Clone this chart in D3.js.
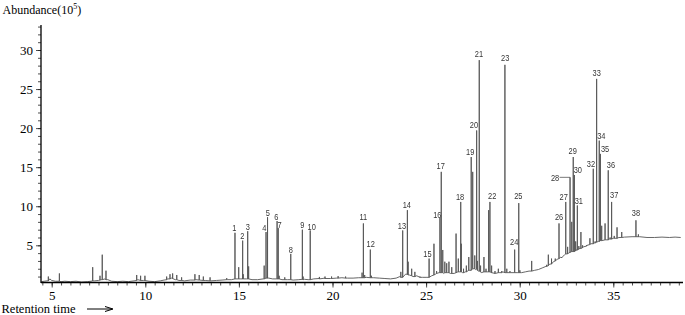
<!DOCTYPE html>
<html>
<head>
<meta charset="utf-8">
<script src="https://cdn.jsdelivr.net/npm/d3@7/dist/d3.min.js"></script>
<style>
  html, body { margin: 0; padding: 0; background: #fff; }
  svg { display: block; }
</style>
</head>
<body>
<svg id="chart" width="685" height="315"></svg>
<script>
// ---------------- DATA ----------------
const xTickLabels = [5, 10, 15, 20, 25, 30, 35];
const yTickLabels = [5, 10, 15, 20, 25, 30];

// labelled peaks: retention time (min), apex abundance (x10^5), foot abundance
const peakLabels = [1,2,3,4,5,6,7,8,9,10,11,12,13,14,15,16,17,18,19,20,21,22,23,24,25,26,27,28,29,30,31,32,33,34,35,36,37,38];
const peakTimes  = [14.79,15.20,15.47,16.45,16.53,17.04,17.10,17.77,18.39,18.81,21.65,22.02,23.75,24.00,25.16,25.74,25.81,26.85,27.41,27.70,27.84,28.41,29.21,29.73,29.95,32.10,32.46,32.69,32.86,32.92,33.08,33.93,34.11,34.25,34.31,34.73,34.91,36.21];
const peakTops   = [6.6,5.6,6.8,6.7,8.6,8.1,7.2,3.9,7.0,6.9,7.8,4.45,6.9,9.5,3.3,8.5,14.4,10.55,16.3,19.7,28.7,10.55,28.1,4.45,10.4,7.8,10.55,13.7,16.3,14.0,10.1,14.8,26.3,18.4,16.7,14.6,10.55,8.2];
const peakFeet   = [0.7,0.7,0.7,0.8,0.8,0.7,0.7,0.6,0.65,0.6,0.85,0.85,0.9,1.3,0.9,1.5,1.5,1.6,1.8,2.0,1.7,1.6,1.5,1.5,1.5,3.3,3.9,4.1,4.2,4.2,4.4,5.2,5.4,5.5,5.6,5.7,5.8,6.1];

// unlabelled minor peaks
const minorTimes = [4.82,5.41,7.19,7.58,7.70,7.90,9.54,9.75,9.98,11.14,11.32,11.46,11.68,11.94,12.65,12.88,13.10,13.46,14.35,14.99,15.23,15.52,16.35,17.15,17.45,18.43,19.30,19.60,19.95,20.30,20.70,21.58,21.72,22.08,23.65,24.04,24.23,24.40,24.67,25.42,25.56,25.89,26.00,26.10,26.22,26.37,26.60,26.72,26.88,27.00,27.15,27.28,27.49,27.60,27.74,27.91,28.09,28.20,28.34,28.50,28.68,28.86,29.04,29.31,29.48,30.01,30.64,31.44,31.53,31.70,31.90,32.24,32.56,32.78,32.99,33.16,33.27,33.36,33.57,33.75,34.03,34.38,34.56,34.83,35.05,35.20,35.45,36.34];
const minorTops  = [1.0,1.4,2.2,1.1,3.8,1.75,1.2,1.1,1.1,1.0,1.3,1.4,1.2,0.9,1.3,1.2,1.0,0.9,0.8,2.2,1.3,2.3,2.4,1.1,0.9,1.0,0.95,1.0,1.0,1.05,1.0,1.5,1.2,1.1,1.6,2.9,2.0,1.6,1.0,5.2,1.7,4.4,2.9,2.7,2.9,2.2,6.5,3.3,5.2,2.0,2.4,3.5,14.4,3.7,3.0,2.4,3.5,2.0,9.5,2.4,1.7,2.0,1.7,2.0,1.7,1.8,3.0,2.5,3.8,3.3,3.3,3.5,4.8,8.0,5.5,4.9,6.7,5.0,5.0,5.9,5.5,7.5,7.8,6.0,6.2,7.3,6.7,6.4];
const minorFeet  = [0.45,0.4,0.45,0.55,0.6,0.6,0.5,0.5,0.5,0.6,0.7,0.75,0.6,0.5,0.55,0.55,0.5,0.45,0.6,0.7,0.7,0.7,0.7,0.7,0.6,0.6,0.7,0.75,0.75,0.8,0.8,0.85,0.85,0.85,0.9,1.2,1.1,1.0,0.9,1.2,1.4,1.5,1.5,1.5,1.5,1.4,1.5,1.6,1.6,1.5,1.6,1.8,2.0,2.0,1.8,1.6,1.6,1.6,1.6,1.5,1.4,1.5,1.5,1.5,1.5,1.5,1.7,2.3,2.4,2.6,3.0,3.4,3.9,4.2,4.3,4.5,4.6,4.7,4.9,5.1,5.3,5.6,5.7,5.8,5.9,5.9,6.0,6.1];

// baseline (retention time, abundance)
const baseTimes  = [4.45,4.6,4.75,4.9,5.0,5.2,5.5,5.7,6.0,6.3,6.6,6.9,7.1,7.3,7.5,7.65,7.85,8.0,8.2,8.5,8.8,9.1,9.4,9.6,9.9,10.2,10.5,10.8,11.0,11.2,11.4,11.6,11.8,12.1,12.4,12.7,12.9,13.2,13.5,13.8,14.1,14.4,14.6,14.9,15.1,15.4,15.7,16.0,16.3,16.6,16.8,17.0,17.3,17.6,17.9,18.2,18.5,18.7,19.0,19.3,19.6,19.9,20.2,20.5,20.8,21.1,21.4,21.8,22.2,22.5,22.8,23.1,23.4,23.6,23.9,24.1,24.3,24.5,24.8,25.0,25.3,25.5,25.7,25.95,26.15,26.3,26.5,26.7,26.95,27.1,27.3,27.55,27.65,27.8,27.95,28.15,28.3,28.5,28.7,28.9,29.1,29.3,29.5,29.7,29.9,30.1,30.3,30.5,30.8,31.0,31.2,31.4,31.6,31.8,32.0,32.2,32.4,32.6,32.8,33.0,33.2,33.4,33.6,33.8,34.0,34.2,34.4,34.6,34.8,35.0,35.3,35.6,36.0,36.4,36.8,37.2,37.6,38.0,38.3,38.6];
const baseValues = [0.35,0.4,0.45,0.7,0.5,0.4,0.35,0.4,0.35,0.4,0.3,0.35,0.4,0.45,0.5,0.6,0.7,0.6,0.4,0.35,0.4,0.35,0.45,0.6,0.5,0.4,0.35,0.45,0.55,0.7,0.8,0.6,0.5,0.45,0.55,0.6,0.55,0.5,0.45,0.5,0.55,0.6,0.6,0.7,0.7,0.7,0.6,0.6,0.7,0.8,0.7,0.7,0.6,0.6,0.55,0.6,0.65,0.6,0.7,0.75,0.8,0.75,0.8,0.85,0.8,0.8,0.85,0.9,0.85,0.8,0.75,0.7,0.8,1.0,1.3,1.2,1.0,1.1,0.9,0.9,1.1,1.3,1.5,1.4,1.5,1.4,1.4,1.6,1.5,1.6,1.8,2.0,1.9,1.7,1.5,1.6,1.6,1.5,1.4,1.5,1.6,1.5,1.5,1.5,1.5,1.5,1.6,1.7,1.8,1.9,2.1,2.3,2.6,2.9,3.2,3.5,3.8,4.0,4.2,4.4,4.6,4.8,5.0,5.2,5.3,5.5,5.6,5.7,5.8,5.9,6.0,6.05,6.1,6.1,6.0,6.0,6.05,6.0,6.05,6.0];

// ---------------- LAYOUT ----------------
// label nudges in px relative to apex: [dx, dy(to text centre)]
const labelNudge = [[-0.7,-5],[-0.4,-4.7],[0,-5],[-1.6,-4.4],[0.3,-4.7],[-0.7,-4.4],[1.4,-3.3],[0,-4.3],[0,-5.3],[1.4,-3.7],
  [0,-6.6],[0.4,-5.6],[-0.7,-4.3],[-0.6,-5],[-1.7,-4.7],[-2.7,-3.7],[-0.6,-6.4],[-0.7,-5],[-1,-5],[-2.7,-5.7],
  [-0.3,-6.7],[2.3,-6.7],[0.3,-6.7],[-0.4,-7.6],[-0.4,-7.7],[0,-6.6],[-2,-5.7],[-15,0],[-0.6,-6.7],[3.4,-5],
  [1.4,-4.3],[-2.3,-5],[0,-6],[2,-4.7],[4.7,-4.7],[2.7,-6],[2.6,-7.4],[0,-7.7]];

const svg = d3.select("#chart");
const x = d3.scaleLinear().domain([5, 35]).range([51.7, 613.3]);
const y = d3.scaleLinear().domain([5, 30]).range([245.3, 50]);
const axisX0 = 41, axisY0 = 282.5, axisXEnd = 683, axisYTop = 25;
const serif = "'Liberation Serif','Times New Roman',serif";

// ---------------- TRACE ----------------
const groups = [];
baseTimes.forEach((t, i) => groups.push({t, pts: [[t, baseValues[i]]]}));
peakTimes.forEach((t, i) => groups.push({t, pts: [[t, peakFeet[i]], [t, peakTops[i]], [t, peakFeet[i]]]}));
minorTimes.forEach((t, i) => groups.push({t, pts: [[t, minorFeet[i]], [t, minorTops[i]], [t, minorFeet[i]]]}));
groups.sort((a, b) => a.t - b.t);
const trace = groups.flatMap(g => g.pts);

const line = d3.line().x(d => x(d[0])).y(d => y(d[1]));
svg.append("path")
  .attr("d", line(trace))
  .attr("fill", "none")
  .attr("stroke", "#555")
  .attr("stroke-width", 0.9)
  .attr("stroke-linejoin", "miter");

// ---------------- AXES ----------------
const yMinor = svg.append("g").attr("transform", `translate(${axisX0},0)`)
  .call(d3.axisLeft(y).tickValues(d3.range(1, 34)).tickSize(3).tickFormat(""));
const yMajor = svg.append("g").attr("transform", `translate(${axisX0},0)`)
  .call(d3.axisLeft(y).tickValues(yTickLabels).tickSize(5).tickPadding(3).tickFormat(d3.format("d")));
const xMinor = svg.append("g").attr("transform", `translate(0,${axisY0})`)
  .call(d3.axisBottom(x).tickValues(d3.range(4.5, 38.76, 0.5)).tickSize(3).tickFormat(""));
const xMajor = svg.append("g").attr("transform", `translate(0,${axisY0})`)
  .call(d3.axisBottom(x).tickValues(xTickLabels).tickSize(5).tickPadding(3.5).tickFormat(d3.format("d")));

[yMinor, yMajor, xMinor, xMajor].forEach(g => {
  g.attr("font-family", serif);
  g.select(".domain").remove();
  g.selectAll("line").attr("stroke", "#222").attr("stroke-width", 0.8);
  g.selectAll("text").attr("font-family", serif).attr("font-size", 13).attr("fill", "#000");
});

svg.append("line").attr("x1", axisX0).attr("x2", axisX0).attr("y1", axisYTop).attr("y2", axisY0 + 0.5)
  .attr("stroke", "#000").attr("stroke-width", 1.3);
svg.append("line").attr("x1", axisX0).attr("x2", axisXEnd).attr("y1", axisY0).attr("y2", axisY0)
  .attr("stroke", "#000").attr("stroke-width", 1.6);

// ---------------- PEAK LABELS ----------------
const lab = svg.append("g").attr("opacity", 0.99);
peakLabels.forEach((n, i) => {
  const px = x(peakTimes[i]), py = y(peakTops[i]);
  const [dx, dy] = labelNudge[i];
  const cx = px + dx, cy = py + dy;
  lab.append("text")
    .attr("transform", `translate(${cx},${cy + 3.3}) scale(0.8,1)`)
    .attr("text-anchor", "middle")
    .attr("font-family", "'Liberation Sans',Arial,sans-serif")
    .attr("font-size", 9.3)
    .attr("fill", "#333")
    .text(n);
  if (n === 28) {
    lab.append("line").attr("x1", cx + 4.5).attr("x2", px).attr("y1", cy).attr("y2", cy)
      .attr("stroke", "#555").attr("stroke-width", 0.8);
  }
});

// ---------------- TITLES ----------------
const yt = svg.append("text").attr("x", 2.5).attr("y", 13.5)
  .attr("font-family", serif).attr("font-size", 12).attr("fill", "#000");
yt.append("tspan").text("Abundance(10");
yt.append("tspan").attr("font-size", 8).attr("dy", -4.5).text("5");
yt.append("tspan").attr("dy", 4.5).text(")");

svg.append("text").attr("x", 1.5).attr("y", 313)
  .attr("font-family", serif).attr("font-size", 12.5).attr("fill", "#000")
  .text("Retention time");
svg.append("line").attr("x1", 87).attr("x2", 111).attr("y1", 309).attr("y2", 309)
  .attr("stroke", "#000").attr("stroke-width", 1);
svg.append("path").attr("d", "M105,306.5 L113,309 L105,311.5")
  .attr("fill", "none").attr("stroke", "#000").attr("stroke-width", 1);
</script>
</body>
</html>
